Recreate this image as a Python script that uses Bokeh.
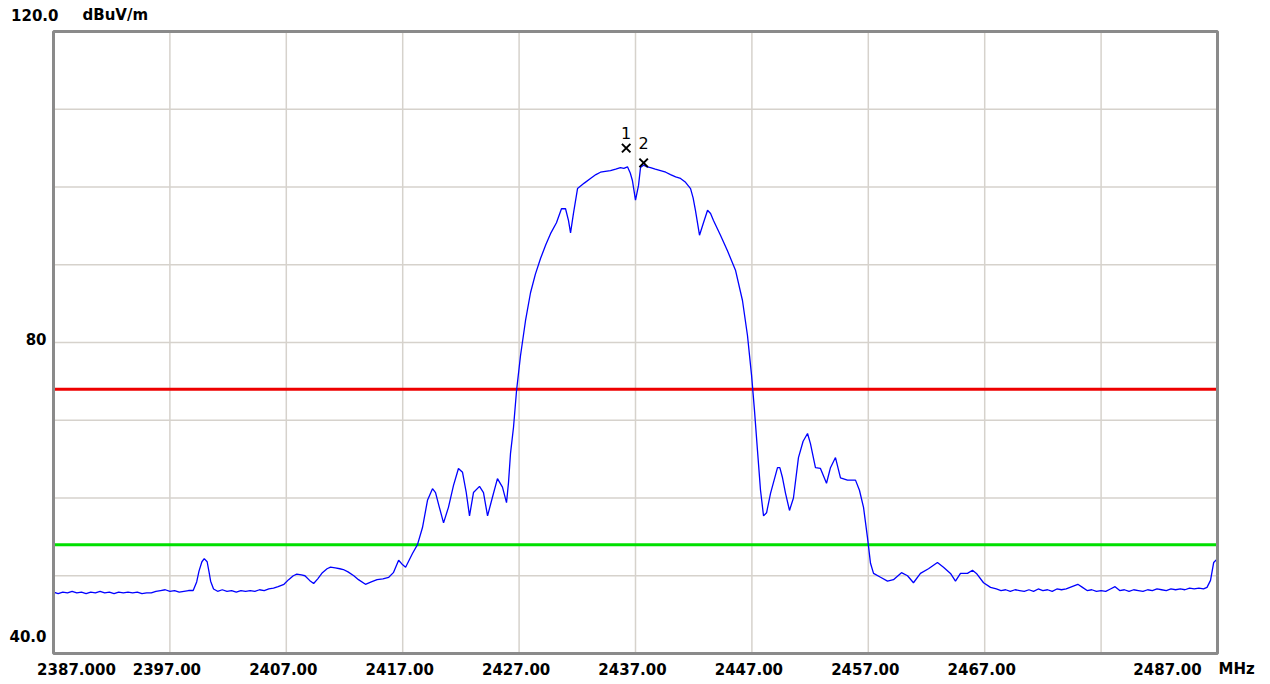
from bokeh.plotting import figure
from bokeh.models import Range1d, Label
from bokeh.embed import file_html
from bokeh.resources import INLINE

# ---- data ----
freq = [2387.0, 2387.4, 2387.8, 2388.2, 2388.6, 2389.0, 2389.4, 2389.8, 2390.2, 2390.6,
        2391.0, 2391.4, 2391.8, 2392.2, 2392.6, 2393.0, 2393.4, 2393.8, 2394.2, 2394.6,
        2395.0, 2395.4, 2395.8, 2396.2, 2396.6, 2397.0, 2397.4, 2397.8, 2398.2, 2398.6,
        2399.0, 2399.3, 2399.5, 2399.75, 2399.95, 2400.2, 2400.35, 2400.5, 2400.75, 2401.1,
        2401.5, 2401.9, 2402.3, 2402.7, 2403.1, 2403.5, 2403.9, 2404.3, 2404.7, 2405.1,
        2405.5, 2405.9, 2406.3, 2406.8, 2407.2, 2407.6, 2407.9, 2408.3, 2408.6, 2409.0,
        2409.35, 2409.7, 2410.1, 2410.5, 2410.8, 2411.2, 2411.6, 2411.9, 2412.3, 2412.8,
        2413.2, 2413.8, 2414.3, 2414.8, 2415.3, 2415.8, 2416.2, 2416.65, 2417.0, 2417.25,
        2417.55, 2417.85, 2418.27, 2418.7, 2419.13, 2419.56, 2419.82, 2420.15, 2420.51, 2420.93,
        2421.36, 2421.79, 2422.14, 2422.45, 2422.74, 2423.08, 2423.6, 2423.94, 2424.29, 2424.71,
        2425.14, 2425.57, 2425.92, 2426.09, 2426.26, 2426.52, 2426.78, 2427.12, 2427.55, 2427.98,
        2428.4, 2428.84, 2429.3, 2429.7, 2430.21, 2430.64, 2430.99, 2431.24, 2431.42, 2431.67,
        2432.02, 2432.6, 2433.13, 2433.6, 2433.99, 2434.4, 2434.85, 2435.3, 2435.71, 2436.0,
        2436.31, 2436.55, 2436.74, 2437.0, 2437.26, 2437.43, 2437.69, 2438.0, 2438.29, 2438.7,
        2439.15, 2439.6, 2440.01, 2440.45, 2440.87, 2441.3, 2441.73, 2441.95, 2442.15, 2442.5,
        2442.84, 2443.19, 2443.45, 2443.7, 2444.3, 2444.9, 2445.59, 2446.19, 2446.62, 2446.97,
        2447.22, 2447.48, 2447.74, 2448.0, 2448.26, 2448.6, 2449.2, 2449.4, 2449.63, 2449.89,
        2450.23, 2450.57, 2451.0, 2451.4, 2451.78, 2452.03, 2452.46, 2452.89, 2453.41, 2453.75,
        2454.18, 2454.61, 2455.21, 2455.9, 2456.24, 2456.59, 2456.93, 2457.19, 2457.45, 2458.05,
        2458.65, 2459.16, 2459.85, 2460.37, 2460.88, 2461.48, 2462.17, 2462.94, 2463.46, 2464.06,
        2464.49, 2464.92, 2465.52, 2465.95, 2466.29, 2466.9, 2467.5, 2468.0, 2468.4, 2468.8,
        2469.2, 2469.6, 2470.0, 2470.4, 2470.8, 2471.2, 2471.6, 2472.0, 2472.4, 2472.8,
        2473.2, 2473.6, 2474.0, 2474.5, 2475.0, 2475.4, 2475.8, 2476.2, 2476.6, 2477.0,
        2477.4, 2477.8, 2478.2, 2478.6, 2479.0, 2479.4, 2479.8, 2480.2, 2480.6, 2481.0,
        2481.4, 2481.8, 2482.2, 2482.6, 2483.0, 2483.4, 2483.8, 2484.2, 2484.6, 2485.0,
        2485.4, 2485.8, 2486.1, 2486.4, 2486.67, 2487.0]
level = [47.9, 47.7, 47.9, 47.8, 48.0, 47.8, 47.9, 47.7, 47.9, 47.8,
         48.0, 47.8, 47.9, 47.7, 47.9, 47.8, 47.9, 47.8, 47.9, 47.7,
         47.8, 47.8, 48.0, 48.1, 48.2, 48.0, 48.1, 47.9, 48.0, 48.1,
         48.1, 49.2, 50.6, 51.8, 52.2, 51.8, 50.6, 49.3, 48.3, 48.0,
         48.2, 48.0, 48.1, 47.9, 48.1, 48.0, 48.1, 48.0, 48.2, 48.1,
         48.3, 48.4, 48.6, 48.9, 49.5, 50.0, 50.2, 50.1, 50.0, 49.4,
         49.0, 49.6, 50.4, 50.9, 51.1, 51.0, 50.9, 50.8, 50.5, 50.0,
         49.5, 48.9, 49.2, 49.5, 49.6, 49.8, 50.4, 52.0, 51.4, 51.1,
         52.0, 52.9, 54.0, 56.2, 59.7, 61.2, 60.7, 58.8, 56.8, 58.8,
         61.6, 63.8, 63.3, 60.8, 57.7, 60.7, 61.5, 60.7, 57.7, 60.1,
         62.5, 61.4, 59.4, 62.0, 65.7, 69.1, 73.8, 78.3, 82.8, 86.4,
         88.8, 90.8, 92.6, 94.0, 95.4, 97.2, 97.2, 95.7, 94.1, 96.6,
         99.8, 100.5, 101.1, 101.6, 101.9, 102.0, 102.1, 102.3, 102.5, 102.4,
         102.6, 101.8, 100.8, 98.3, 100.2, 102.5, 102.8, 102.6, 102.5, 102.3,
         102.1, 101.9, 101.6, 101.3, 101.1, 100.6, 99.8, 98.6, 97.0, 93.8,
         95.4, 97.0, 96.6, 95.7, 93.8, 91.8, 89.3, 85.4, 80.9, 75.8,
         71.3, 66.1, 61.0, 57.7, 58.1, 60.6, 63.9, 63.9, 62.6, 60.6,
         58.4, 60.0, 65.2, 67.3, 68.3, 67.0, 63.9, 63.8, 61.9, 63.9,
         65.2, 62.6, 62.3, 62.3, 61.0, 58.8, 54.9, 51.6, 50.3, 49.8,
         49.3, 49.5, 50.4, 50.0, 49.1, 50.3, 50.9, 51.7, 51.1, 50.3,
         49.3, 50.3, 50.3, 50.7, 50.3, 49.1, 48.5, 48.3, 48.1, 48.2,
         48.0, 48.2, 48.1, 48.0, 48.2, 48.0, 48.3, 48.1, 48.2, 48.0,
         48.3, 48.2, 48.3, 48.6, 48.9, 48.5, 48.1, 48.2, 48.0, 48.1,
         48.0, 48.3, 48.6, 48.1, 48.2, 48.0, 48.2, 48.1, 48.0, 48.2,
         48.1, 48.3, 48.2, 48.1, 48.3, 48.2, 48.3, 48.2, 48.4, 48.3,
         48.4, 48.3, 48.5, 49.4, 51.7, 52.2]

limit_peak = 74.0      # red limit line
limit_avg = 54.0       # green limit line

marker_ids = ["1", "2"]
marker_freq = [2436.2, 2437.7]
marker_level = [105.0, 103.1]

f_start, f_stop = 2387.0, 2487.0
y_min, y_max = 40.0, 120.0

x_ticks = [2387, 2397, 2407, 2417, 2427, 2437, 2447, 2457, 2467, 2487]
x_tick_labels = ["2387.000", "2397.00", "2407.00", "2417.00", "2427.00",
                 "2437.00", "2447.00", "2457.00", "2467.00", "2487.00"]
x_unit = "MHz"
x_grid = [2397, 2407, 2417, 2427, 2437, 2447, 2457, 2467, 2477]
y_grid = [50, 60, 70, 80, 90, 100, 110]
y_ticks = [120, 80, 40]
y_tick_labels = ["120.0", "80", "40.0"]
y_unit = "dBuV/m"

FONT = "DejaVu Sans"
W, H = 1270, 684
# plot box in canvas pixels
BL, BR, BT, BB = 53, 1217, 31, 653
ppx = (BR - BL) / (f_stop - f_start)
ppy = (BB - BT) / (y_max - y_min)

p = figure(width=W, height=H, output_backend="svg", toolbar_location=None,
           x_range=Range1d(f_start - BL / ppx, f_stop + (W - BR) / ppx),
           y_range=Range1d(y_min - (H - BB) / ppy, y_max + BT / ppy),
           x_axis_location=None, y_axis_location=None,
           min_border=0, min_border_left=0, min_border_right=0,
           min_border_top=0, min_border_bottom=0,
           background_fill_color="white", border_fill_color="white")
p.outline_line_color = None
p.grid.visible = False

grid_color = "#d6d2cc"
p.segment(x0=x_grid, y0=[y_min] * len(x_grid), x1=x_grid, y1=[y_max] * len(x_grid),
          line_color=grid_color, line_width=1.5)
p.segment(x0=[f_start] * len(y_grid), y0=y_grid, x1=[f_stop] * len(y_grid), y1=y_grid,
          line_color=grid_color, line_width=1.5)

p.segment(x0=[f_start], y0=[limit_peak], x1=[f_stop], y1=[limit_peak],
          line_color="#ee0000", line_width=3)
p.segment(x0=[f_start], y0=[limit_avg], x1=[f_stop], y1=[limit_avg],
          line_color="#00e000", line_width=3)

p.line(freq, level, line_color="#0000ff", line_width=1.3)

# plot box frame
p.quad(left=[f_start], right=[f_stop], bottom=[y_min], top=[y_max],
       fill_color=None, line_color="#8a8a8a", line_width=3)

p.scatter(marker_freq, marker_level, marker="x", size=12, line_color="black", line_width=2)
label_lift = [15, 20]
for mid, mf, ml, lift in zip(marker_ids, marker_freq, marker_level, label_lift):
    p.add_layout(Label(x=mf, y=ml, text=mid, y_offset=lift, text_align="center",
                       text_baseline="middle", text_font=FONT, text_font_size="16px",
                       text_color="black"))

bold = dict(text_font=FONT, text_font_style="bold", text_font_size="15px", text_color="black")

# x tick labels
for t, lab in zip(x_ticks, x_tick_labels):
    if t == f_start:
        xo = 23
    elif t == f_stop:
        xo = -50
    else:
        xo = -3
    p.add_layout(Label(x=t, y=y_min, text=lab, x_offset=xo, y_offset=-15,
                       text_align="center", text_baseline="middle", **bold))
p.add_layout(Label(x=f_stop, y=y_min, text=x_unit, x_offset=1, y_offset=-15,
                   text_align="left", text_baseline="middle", **bold))

# y labels
for v, lab in zip(y_ticks, y_tick_labels):
    if v == y_max:
        xo, yo = 5, 17
    elif v == y_min:
        xo, yo = -7, 18
    else:
        xo, yo = -7, 4
    p.add_layout(Label(x=f_start, y=v, text=lab, x_offset=xo, y_offset=yo,
                       text_align="right", text_baseline="middle", **bold))
p.add_layout(Label(x=f_start, y=y_max, text=y_unit, x_offset=29, y_offset=17,
                   text_align="left", text_baseline="middle", **bold))

open("out.html", "w").write(file_html(p, INLINE))
